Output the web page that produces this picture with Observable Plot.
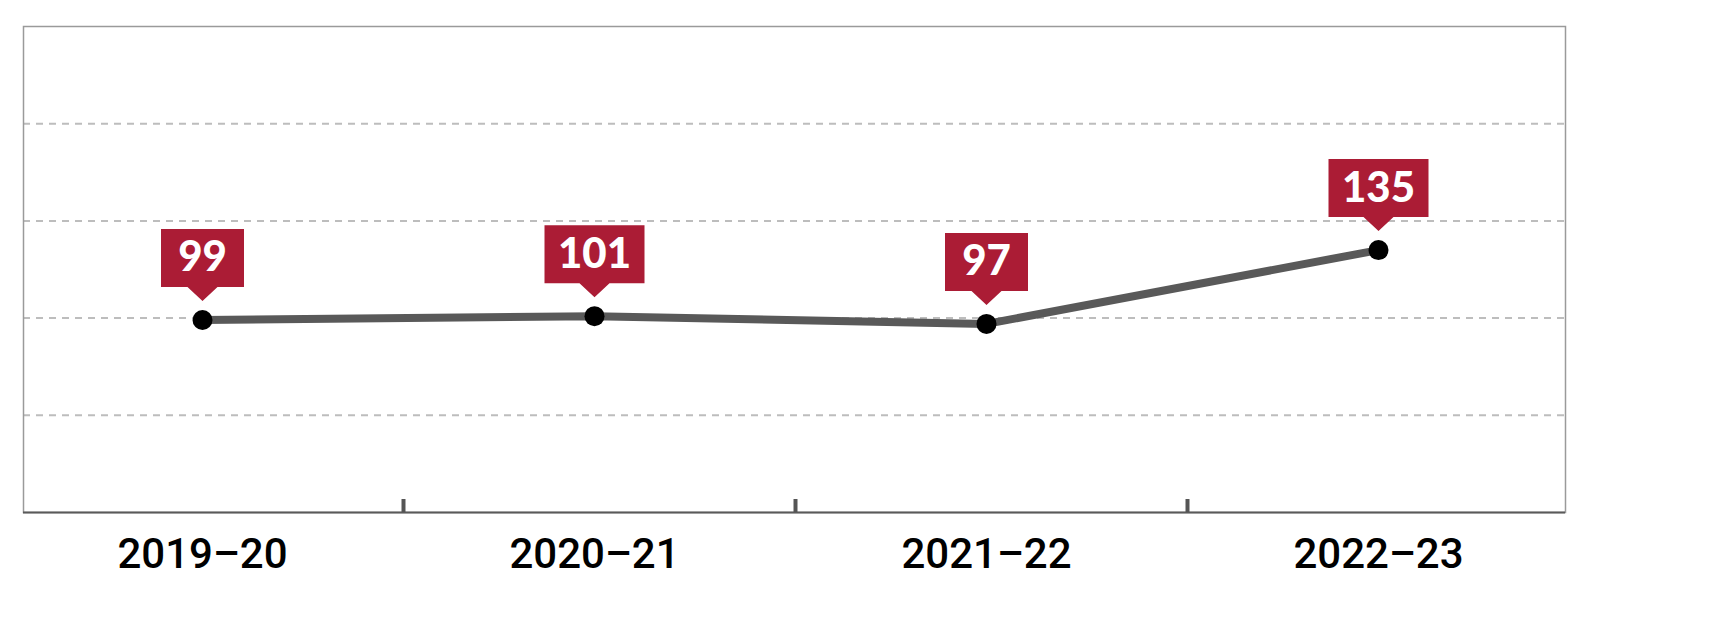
<!DOCTYPE html>
<html>
<head>
<meta charset="utf-8">
<script src="https://cdn.jsdelivr.net/npm/d3@7"></script>
<script src="https://cdn.jsdelivr.net/npm/@observablehq/plot@0.6"></script>
<style>
  html, body { margin: 0; padding: 0; background: #fff; }
</style>
</head>
<body>
<div id="chart"></div>
<script>
const years = ["2019–20", "2020–21", "2021–22", "2022–23"];
const values = [99, 101, 97, 135];
const gridValues = [50, 100, 150, 200];
const yDomain = [0, 250];

const data = years.map((year, i) => ({year, value: values[i], label: String(values[i])}));

const RED = "#ab1c35";

function callout(w) {
  return {
    draw(ctx) {
      const h = 58, gap = 19, th = 14, hw = 15;
      const yb = -gap - th;
      ctx.moveTo(-w / 2, yb - h);
      ctx.lineTo(w / 2, yb - h);
      ctx.lineTo(w / 2, yb);
      ctx.lineTo(hw, yb);
      ctx.lineTo(0, -gap);
      ctx.lineTo(-hw, yb);
      ctx.lineTo(-w / 2, yb);
      ctx.closePath();
    }
  };
}

const chart = Plot.plot({
  width: 1709,
  height: 630,
  marginLeft: 23,
  marginRight: 144,
  marginTop: 26,
  marginBottom: 118,
  style: {background: "#fff", color: "#000"},
  x: {type: "point", domain: years, padding: 0.465, align: 0.488, label: null},
  y: {domain: yDomain, axis: null},
  marks: [
    Plot.gridY(gridValues, {stroke: "#bdbdbd", strokeOpacity: 1, strokeWidth: 2, strokeDasharray: "7,6"}),
    Plot.frame({stroke: "#9a9a9a", strokeWidth: 1.5}),
    Plot.ruleY([0], {stroke: "#5a5a5a", strokeWidth: 2}),
    Plot.ruleX(years.slice(0, 3), {x: d => d, dx: 201, insetTop: 473, stroke: "#555", strokeWidth: 4}),
    Plot.line(data, {x: "year", y: "value", stroke: "#595959", strokeWidth: 8}),
    Plot.dot(data, {x: "year", y: "value", r: 10, fill: "#000", stroke: "none"}),
    Plot.dot(data, {x: "year", y: "value", filter: d => d.label.length === 2, symbol: callout(83), fill: RED, stroke: "none"}),
    Plot.dot(data, {x: "year", y: "value", filter: d => d.label.length === 3, symbol: callout(100), fill: RED, stroke: "none"}),
    Plot.text(data, {x: "year", y: "value", text: "label", dy: -62, fill: "#fff", fontSize: 42, fontWeight: 900, fontFamily: "Lato", textAnchor: "middle"}),
    Plot.axisX({tickSize: 0, tickPadding: 26, fontSize: 42, fontFamily: "Roboto", fontWeight: 500, stroke: "none", fill: "#000"})
  ]
});
document.getElementById("chart").appendChild(chart);
</script>
</body>
</html>
